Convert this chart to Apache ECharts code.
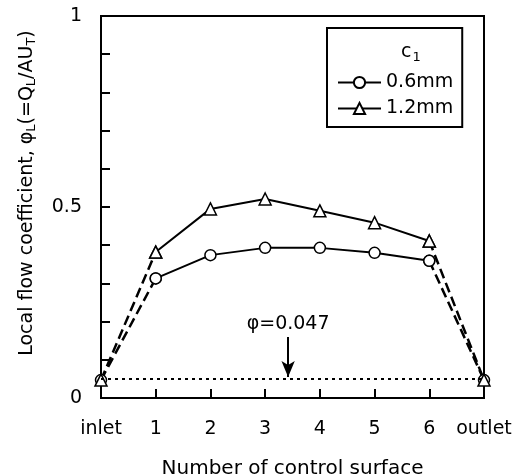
<!DOCTYPE html>
<html>
<head>
<meta charset="utf-8">
<script src="https://cdn.jsdelivr.net/npm/echarts@6/dist/echarts.min.js"></script>
<style>
html,body{margin:0;padding:0;background:#fff;}
#chart{width:522px;height:474px;}
</style>
</head>
<body>
<div id="chart"></div>
<script>
// ---- data ----
var xLabels = ['inlet', '1', '2', '3', '4', '5', '6', 'outlet'];
var xPos = [0, 1, 2, 3, 4, 5, 6, 7];
var series06 = [0.047, 0.313, 0.374, 0.393, 0.393, 0.380, 0.359, 0.047];
var series12 = [0.047, 0.382, 0.495, 0.521, 0.490, 0.459, 0.411, 0.047];
var seriesNames = ['0.6mm', '1.2mm'];
var phiRef = 0.047;
var phiLabel = '\u03c6=0.047';
var arrowX = 3.42;
var arrowFrom = 0.16;
var arrowTo = 0.055;
var yTickLabels = [0, 0.5, 1];

var FONT = '"DejaVu Sans", Verdana, sans-serif';

function pairs(vals, from, to) {
  var out = [];
  for (var i = 0; i < vals.length; i++) {
    out.push(i >= from && i <= to ? [xPos[i], vals[i]] : [xPos[i], '-']);
  }
  return out;
}

function makeSeries(name, vals, symbol, size) {
  var common = {
    type: 'line',
    symbol: symbol,
    symbolSize: size,
    showAllSymbol: true,
    itemStyle: { color: '#fff', borderColor: '#000', borderWidth: 1.5 },
    animation: false,
    silent: true
  };
  var last = vals.length - 1;
  return [
    Object.assign({}, common, {
      name: name + '-in', data: pairs(vals, 0, 1), connectNulls: false,
      lineStyle: { color: '#000', width: 2.5, type: [10, 5] }, z: 3
    }),
    Object.assign({}, common, {
      name: name + '-out', data: pairs(vals, last - 1, last), connectNulls: false,
      lineStyle: { color: '#000', width: 2.5, type: [10, 5] }, z: 3
    }),
    Object.assign({}, common, {
      name: name, data: pairs(vals, 1, last - 1), connectNulls: false,
      lineStyle: { color: '#000', width: 2 }, z: 4
    })
  ];
}

var s = [].concat(
  makeSeries(seriesNames[0], series06, 'circle', 11),
  makeSeries(seriesNames[1], series12, 'triangle', 12)
);

// reference line and arrow annotation
s[0].markLine = {
  silent: true,
  symbol: ['none', 'none'],
  animation: false,
  label: { show: false },
  lineStyle: { color: '#000', width: 2, type: [3, 4] },
  data: [{ yAxis: phiRef }]
};
s[1].markLine = {
  silent: true,
  animation: false,
  symbol: ['none', 'arrow'],
  symbolSize: [10, 16],
  lineStyle: { color: '#000', width: 2, type: 'solid' },
  label: {
    show: true, position: 'start', formatter: phiLabel,
    color: '#000', fontSize: 19, fontFamily: FONT, distance: 3
  },
  data: [[{ coord: [arrowX, arrowFrom] }, { coord: [arrowX, arrowTo] }]]
};

var chart = echarts.init(document.getElementById('chart'), null, { renderer: 'canvas' });
chart.setOption({
  animation: false,
  backgroundColor: '#fff',
  textStyle: { fontFamily: FONT, color: '#000' },
  grid: {
    left: 101, right: 38, top: 16, bottom: 76,
    containLabel: false, outerBoundsMode: 'none',
    show: true, borderColor: '#000', borderWidth: 2, backgroundColor: 'transparent'
  },
  xAxis: {
    type: 'value', min: 0, max: 7, interval: 1,
    name: 'Number of control surface',
    nameLocation: 'middle', nameGap: 61,
    nameTextStyle: { fontSize: 20, color: '#000', fontFamily: FONT },
    axisLine: { lineStyle: { color: '#000', width: 2 } },
    axisTick: { inside: true, length: 9, lineStyle: { color: '#000', width: 2 } },
    axisLabel: {
      fontSize: 19, color: '#000', fontFamily: FONT, margin: 22,
      formatter: function (v) { return xLabels[Math.round(v)]; }
    },
    splitLine: { show: false }
  },
  yAxis: {
    type: 'value', min: 0, max: 1, interval: 0.1,
    axisLine: { lineStyle: { color: '#000', width: 2 } },
    axisTick: { inside: true, length: 9, lineStyle: { color: '#000', width: 2 } },
    axisLabel: {
      fontSize: 19, color: '#000', fontFamily: FONT, margin: 19,
      formatter: function (v) {
        for (var i = 0; i < yTickLabels.length; i++) {
          if (Math.abs(v - yTickLabels[i]) < 1e-9) return String(yTickLabels[i]);
        }
        return '';
      }
    },
    splitLine: { show: false }
  },
  legend: {
    data: seriesNames,
    orient: 'vertical',
    left: 327, top: 28,
    padding: [45, 9, 9, 10],
    itemWidth: 43, itemHeight: 14, itemGap: 7,
    borderColor: '#000', borderWidth: 2,
    selectedMode: false,
    textStyle: { fontSize: 19, color: '#000', fontFamily: FONT }
  },
  graphic: [
    {
      type: 'text', left: 401, top: 43, silent: true,
      style: {
        text: 'c{sub|1}', fill: '#000', font: '19px ' + FONT,
        rich: { sub: { fontSize: 13, fontFamily: FONT, verticalAlign: 'bottom', padding: [10, 0, 0, 1] } }
      }
    },
    {
      type: 'text', x: 27, y: 193, rotation: Math.PI / 2, silent: true,
      style: {
        text: 'Local flow coefficient, \u03c6{sub|L}(=Q{sub|L}/AU{sub|T})',
        fill: '#000', font: '19px ' + FONT, align: 'center', verticalAlign: 'middle',
        rich: { sub: { fontSize: 13, fontFamily: FONT, padding: [10, 0, 0, 0] } }
      }
    }
  ],
  series: s
});
</script>
</body>
</html>
